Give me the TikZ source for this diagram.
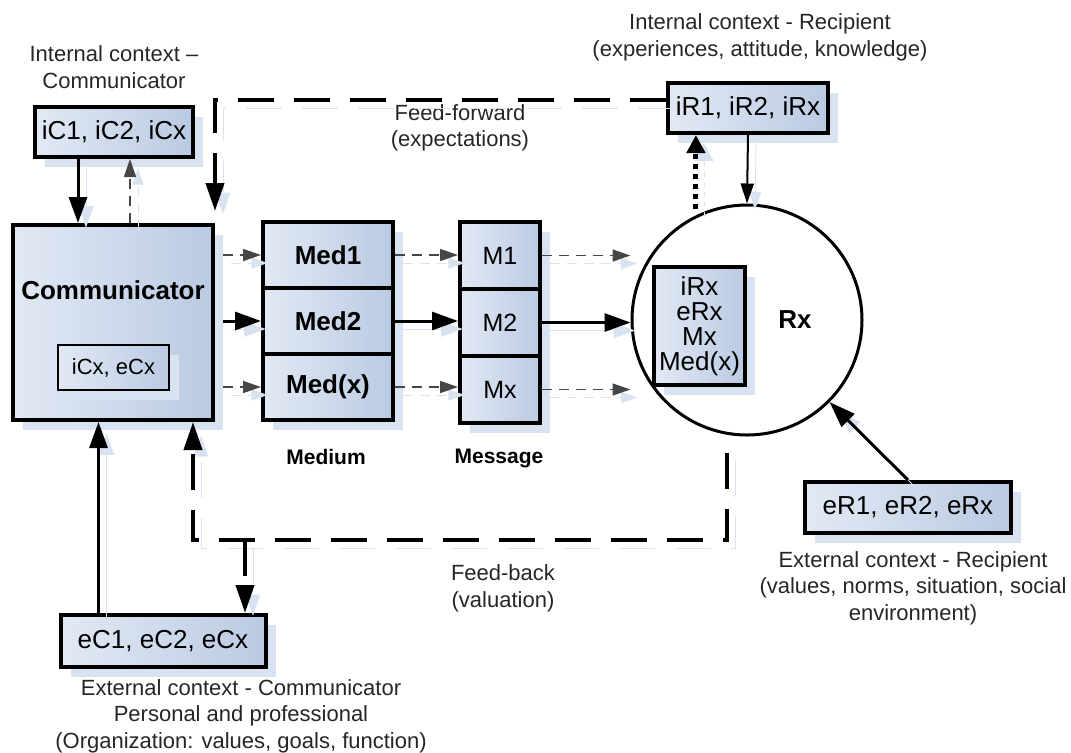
\documentclass[tikz,border=0pt]{standalone}
\usepackage{fontspec}
\setmainfont{Liberation Sans}
\usetikzlibrary{arrows.meta,positioning,shadows}
\definecolor{Cpale}{RGB}{226,233,244}
\definecolor{Cdeep}{RGB}{186,202,227}
\definecolor{Cshade}{RGB}{216,226,240}
\definecolor{Cgrey}{RGB}{70,70,70}
\tikzset{
  ctxbox/.style={draw=black, line width=2pt, left color=Cpale, right color=Cdeep, inner sep=0pt, align=center,
    font=\fontsize{13}{14}\selectfont, drop shadow={shadow xshift=5pt, shadow yshift=-5pt, fill=Cshade, opacity=1}},
  stackbox/.style={ctxbox, minimum width=65pt, minimum height=33pt, font=\bfseries\fontsize{13}{14}\selectfont},
  msgbox/.style={ctxbox, minimum width=40pt, minimum height=33.5pt, font=\fontsize{12.5}{14}\selectfont},
  note/.style={align=center, inner sep=0pt, text=black!85, font=\fontsize{11}{13.3}\selectfont},
  heading/.style={inner sep=0pt, font=\bfseries\fontsize{10.5}{12}\selectfont},
  ghost/.style={preaction={draw=Cshade, transform canvas={shift={(4pt,-4pt)}}, #1}},
  ghost/.default={},
  flow/.style={ghost, -{Triangle[length=13pt,width=9pt]}, line width=1.5pt},
  thinflow/.style={ghost, -{Triangle[length=10pt,width=6.5pt]}, line width=1pt},
  weakflow/.style={ghost={dash pattern=on 5pt off 3.5pt}, -{Triangle[length=9pt,width=6pt]}, line width=0.8pt,
    dash pattern=on 5pt off 3.5pt, draw=Cgrey},
  feedflow/.style={ghost={dash pattern=on 18pt off 10pt}, -{Triangle[length=14pt,width=9pt]}, line width=2pt,
    dash pattern=on 18pt off 10pt},
  dotflow/.style={ghost={dash pattern=on 2.5pt off 2.5pt}, -{Triangle[length=9pt,width=9pt]}, line width=2.5pt,
    dash pattern=on 2.5pt off 2.5pt}
}
\begin{document}
\begin{tikzpicture}[x=0.5pt, y=-0.5pt]
  \useasboundingbox (0,0) rectangle (1071,752);

  % communicator side
  \node[ctxbox, minimum width=79pt, minimum height=25pt] (iC) at (114,132) {iC1, iC2, iCx};
  \node[ctxbox, minimum width=100pt, minimum height=97.5pt] (comm) at (113,322.5) {};
  \node[inner sep=0pt, font=\bfseries\fontsize{13}{14}\selectfont] (commlbl) at (113,290) {Communicator};
  \node[ctxbox, line width=0.8pt, minimum width=55.5pt, minimum height=22.5pt,
    font=\fontsize{11}{12}\selectfont] (cx) at (113.5,367.5) {iCx, eCx};
  \node[ctxbox, minimum width=102.5pt, minimum height=26pt] (eC) at (163,641) {eC1, eC2, eCx};

  % medium and message
  \node[stackbox] (med1) at (328,255) {Med1};
  \node[stackbox, below=-2pt of med1] (med2) {Med2};
  \node[stackbox, below=-2pt of med2] (med3) {Med(x)};
  \node[msgbox] (m1) at (500,255.5) {M1};
  \node[msgbox, below=-2pt of m1] (m2) {M2};
  \node[msgbox, below=-2pt of m2] (m3) {Mx};
  \node[heading] (medlbl) at (326,457) {Medium};
  \node[heading] (msglbl) at (499,458) {Message};

  % recipient side
  \node[draw, circle, line width=1.5pt, fill=white, minimum size=115pt, inner sep=0pt] (circ) at (747,320) {};
  \node[ctxbox, minimum width=45.5pt, minimum height=59pt, font=\fontsize{13}{12.5}\selectfont] (rxbox)
    at (699.5,326) {iRx\\eRx\\Mx\\Med(x)};
  \node[inner sep=0pt, font=\bfseries\fontsize{13}{14}\selectfont] (rxlbl) at (795,320) {Rx};
  \node[ctxbox, minimum width=80pt, minimum height=25pt] (iR) at (748,108) {iR1, iR2, iRx};
  \node[ctxbox, minimum width=103pt, minimum height=25.5pt] (eR) at (908,507.5) {eR1, eR2, eRx};

  % context texts
  \node[note, above=8pt of iC] (intC) {Internal context –\\Communicator};
  \node[note, above=10pt of iR, xshift=6pt] (intR) {Internal context - Recipient\\(experiences, attitude, knowledge)};
  \node[note, below=8pt of eR, xshift=2.5pt] (extR)
    {External context - Recipient\\(values, norms, situation, social\\environment)};
  \node[note, below=5pt of eC, xshift=39pt] (extC)
    {External context - Communicator\\Personal and professional\\(Organization: values, goals, function)};
  \node[note] (ffwd) at (460,128) {Feed-forward\\(expectations)};
  \node[note] (fback) at (503,588) {Feed-back\\(valuation)};

  % context arrows of the communicator
  \coordinate (ic1) at ([xshift=22.5pt]iC.south west);
  \coordinate (ic2) at ([xshift=48.5pt]iC.south west);
  \coordinate (ec1) at ([xshift=20pt]eC.north west);
  \draw[flow] (ic1) -- (ic1 |- comm.north);
  \draw[weakflow] (ic2 |- comm.north) -- (ic2);
  \draw[flow] (ec1) -- (ec1 |- comm.south);

  % channels
  \draw[weakflow, shorten <=4pt] (comm.east |- med1) -- (med1);
  \draw[flow, shorten <=4pt] (comm.east |- med2) -- (med2);
  \draw[weakflow, shorten <=4pt] (comm.east |- med3) -- (med3);
  \draw[weakflow] (med1.east) -- (med1.east -| m1.west);
  \draw[flow] (med2.east) -- (med2.east -| m2.west);
  \draw[weakflow] (med3.east) -- (med3.east -| m3.west);
  \draw[weakflow] (m1.east) -- (m1.east -| circ.west);
  \draw[flow] (m2.east) -- (m2.east -| circ.west);
  \draw[weakflow] (m3.east) -- (m3.east -| circ.west);

  % context arrows of the recipient
  \draw[dotflow, shorten <=3pt] (circ.116) -- (circ.116 |- iR.south);
  \draw[thinflow] (iR.south) -- (circ.north);
  \draw[flow] (eR.north) -- (circ);

  % feed-forward and feed-back
  \draw[feedflow] ([yshift=4pt]iR.west) -| ([yshift=6pt]comm.north east);
  \coordinate (fbR) at (727,540);
  \coordinate (fbL) at (193,540);
  \coordinate (fbB) at (245,540);
  \draw[feedflow, shorten <=8pt] (circ.south -| fbR) -- (fbR) -- (fbL) -- (fbL |- comm.south);
  \draw[feedflow] (fbB) -- (fbB |- eC.north);
\end{tikzpicture}
\end{document}
